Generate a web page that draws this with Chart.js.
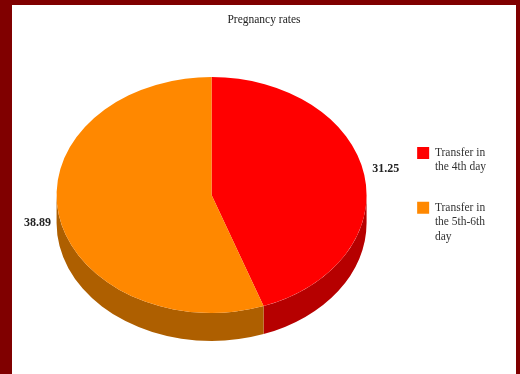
<!DOCTYPE html>
<html>
  <head>
    <meta charset="utf-8">
    <title>Pregnancy rates</title>
    <script src="https://cdn.jsdelivr.net/npm/chart.js@4.4.1/dist/chart.umd.min.js"></script>
    <style>
      body {
        margin: 0;
        background: #800000;
      }
      #frame {
        position: absolute;
        left: 12px;
        top: 5px;
        width: 504px;
        height: 369px;
        background: #ffffff;
      }
    </style>
  </head>
  <body>

<div id="frame">
  <canvas id="myChart"></canvas>
</div>

<script>
  // data
  const categories = [
    ['Transfer in', 'the 4th day'],
    ['Transfer in', 'the 5th-6th', 'day']
  ];
  const rates = [31.25, 38.89];

  const topColors = ['#ff0000', '#ff8800'];
  const sideColors = ['#b60000', '#ae5f00'];

  // 3d look: vertical squash of the disc and height of the wall (px)
  const squash = 0.761;
  const depth = 28;

  const serif = "'Liberation Serif', 'Times New Roman', serif";

  // draws the wall under the disc and squashes the disc into an ellipse
  const pie3d = {
    id: 'pie3d',
    beforeDatasetsDraw(chart) {
      const ctx = chart.ctx;
      const arcs = chart.getDatasetMeta(0).data;
      ctx.save();
      if (!arcs.length) return;
      const {x, y, outerRadius} = arcs[0];
      ctx.translate(0, y - 1);
      ctx.scale(1, squash);
      ctx.translate(0, -y);
      const drop = depth / squash;
      arcs.forEach((arc, i) => {
        for (let n = -1; n <= 1; n++) {
          const a0 = Math.max(arc.startAngle, n * 2 * Math.PI);
          const a1 = Math.min(arc.endAngle, n * 2 * Math.PI + Math.PI);
          if (a1 <= a0) continue;
          ctx.beginPath();
          ctx.arc(x, y, outerRadius, a0, a1);
          ctx.arc(x, y + drop, outerRadius, a1, a0, true);
          ctx.closePath();
          ctx.fillStyle = sideColors[i];
          ctx.fill();
        }
      });
    },
    afterDatasetsDraw(chart) {
      const ctx = chart.ctx;
      ctx.restore();
      const arcs = chart.getDatasetMeta(0).data;
      ctx.save();
      ctx.font = 'bold 12px ' + serif;
      ctx.fillStyle = '#222';
      ctx.textAlign = 'center';
      ctx.textBaseline = 'middle';
      arcs.forEach((arc, i) => {
        const mid = (arc.startAngle + arc.endAngle) / 2;
        const lx = arc.x + arc.outerRadius * 1.14 * Math.cos(mid);
        const ly = arc.y + arc.outerRadius * squash * 1.36 * Math.sin(mid);
        ctx.fillText(rates[i].toFixed(2), lx, ly);
      });
      ctx.restore();
    }
  };

  var ctx = document.getElementById('myChart').getContext('2d');
  var chart = new Chart(ctx, {
    type: 'pie',
    data: {
      labels: categories,
      datasets: [{
        data: rates,
        backgroundColor: topColors,
        borderWidth: 0,
        clip: false
      }]
    },
    options: {
      responsive: true,
      maintainAspectRatio: false,
      animation: false,
      events: [],
      layout: {
        padding: {left: 20, right: 20, top: 0, bottom: 23}
      },
      plugins: {
        title: {
          display: true,
          text: 'Pregnancy rates',
          color: '#222',
          font: {family: serif, size: 11.5, weight: 'normal'},
          padding: {top: 7.6, bottom: 14.6}
        },
        legend: {
          position: 'right',
          fullSize: false,
          labels: {
            boxWidth: 12,
            boxHeight: 12,
            padding: 26,
            color: '#333',
            font: {family: serif, size: 11.5, lineHeight: 1.25}
          }
        },
        tooltip: {enabled: false}
      }
    },
    plugins: [pie3d]
  });
</script>

  </body>
</html>
